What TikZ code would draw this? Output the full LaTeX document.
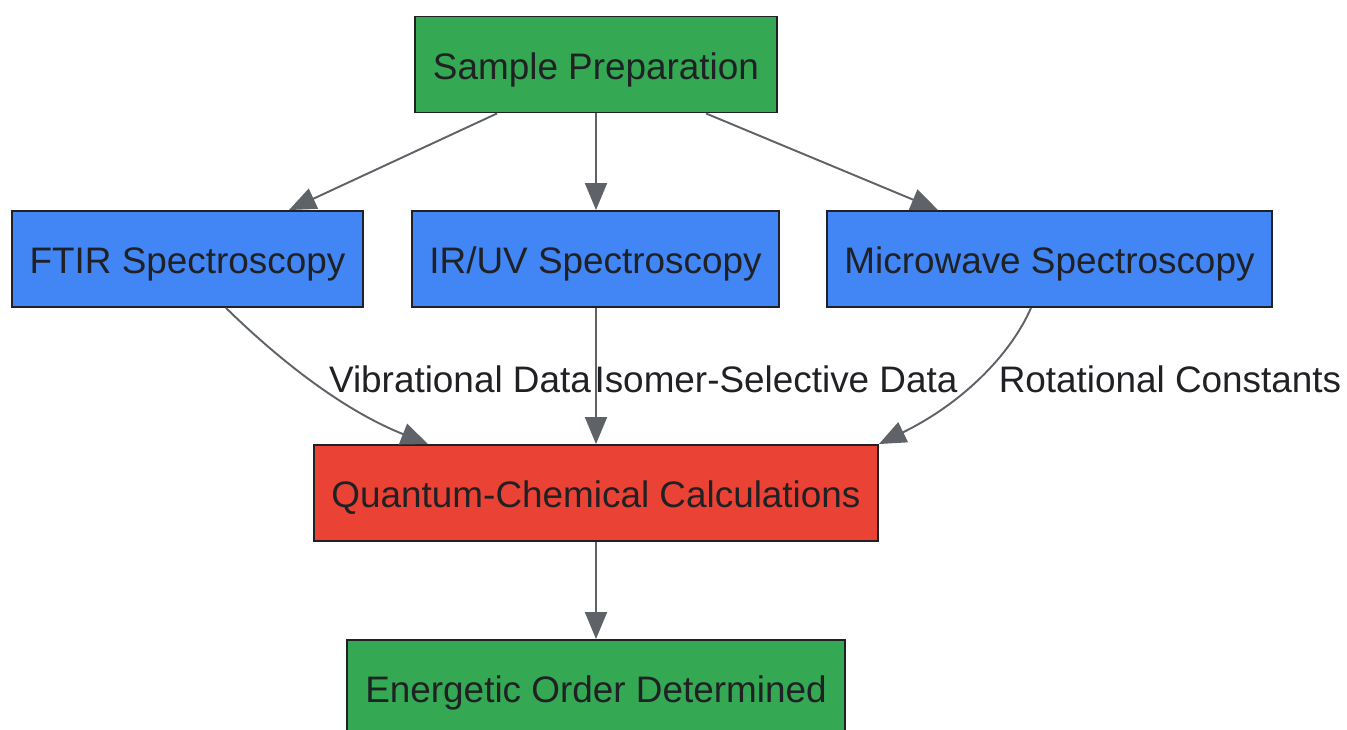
\documentclass[tikz,border=0pt]{standalone}
\usepackage{fontspec}
\setmainfont{Liberation Sans}
\usetikzlibrary{arrows.meta}
\definecolor{stepgreen}{HTML}{34A853}
\definecolor{stepblue}{HTML}{4285F4}
\definecolor{stepred}{HTML}{EA4335}
\definecolor{edgegray}{HTML}{5F6368}
\definecolor{inkdark}{HTML}{202124}
\begin{document}
\begin{tikzpicture}[x=0.02cm, y=-0.02cm,
  box/.style={draw=inkdark, line width=1.1pt, minimum height=1.92cm, inner sep=0pt,
    text height=18pt, text depth=1.2pt,
    text=inkdark, font=\fontsize{21}{25}\selectfont},
  lbl/.style={text=inkdark, font=\fontsize{21}{25}\selectfont, inner sep=0pt},
  flow/.style={draw=edgegray, line width=1.1pt, -{Triangle[length=0.54cm, width=0.44cm]}}]
  \useasboundingbox (0,0) rectangle (1347,730);
  % boxes
  \node[box, fill=stepgreen, minimum width=7.24cm] (prep) at (596,64.5) {Sample Preparation};
  \node[box, fill=stepblue, minimum width=7.02cm] (ftir) at (187.5,259) {FTIR Spectroscopy};
  \node[box, fill=stepblue, minimum width=7.34cm] (iruv) at (595.5,259) {IR/UV Spectroscopy};
  \node[box, fill=stepblue, minimum width=8.9cm] (micro) at (1049.5,259) {Microwave Spectroscopy};
  \node[box, fill=stepred, minimum width=11.28cm] (quantum) at (596,493) {Quantum-Chemical Calculations};
  \node[box, fill=stepgreen, minimum width=9.96cm] (order) at (596,688) {Energetic Order Determined};
  % edge labels
  \node[lbl] (lblvib) at (460,379) {Vibrational Data};
  \node[lbl] (lbliso) at (776,379) {Isomer-Selective Data};
  \node[lbl] (lblrot) at (1170,379) {Rotational Constants};
  % connectors
  \draw[flow] ([xshift=-1.98cm]prep.south) -- ([xshift=2.03cm]ftir.north);
  \draw[flow] (prep.south) -- (prep.south |- iruv.north);
  \draw[flow] ([xshift=2.2cm]prep.south) -- ([xshift=-2.23cm]micro.north);
  \draw[flow] ([xshift=0.77cm]ftir.south) .. controls +(49,48) and +(-88,-35) .. ([xshift=-3.36cm]quantum.north);
  \draw[flow] (iruv.south -| quantum.north) -- (quantum.north);
  \draw[flow] ([xshift=-0.37cm]micro.south) .. controls +(-21,48) and +(82,-40) .. (quantum.north east);
  \draw[flow] (quantum.south) -- (order.north);
\end{tikzpicture}
\end{document}
